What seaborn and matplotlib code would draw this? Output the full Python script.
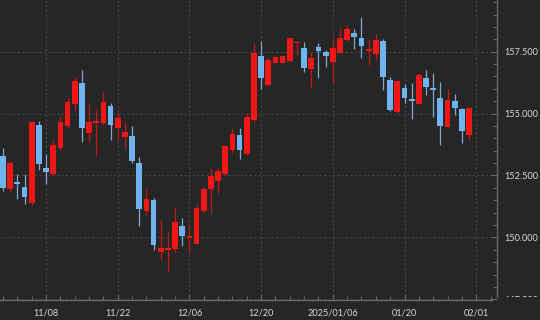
import numpy as np
import pandas as pd
import matplotlib
matplotlib.use("Agg")
import matplotlib.pyplot as plt
from matplotlib.ticker import MultipleLocator, FixedLocator
from matplotlib.transforms import Bbox, TransformedBbox
import seaborn as sns

# ---- data (bar index 0 = 11/08) ----
bar_index = list(range(-6, 60))
opens = [153.30, 151.94, 152.25, 152.05, 151.40, 154.54, 152.81, 152.55, 153.62, 154.51,
         155.39, 156.25, 154.20, 154.61, 154.63, 155.31, 154.41, 154.04, 154.11, 153.02,
         151.07, 151.51, 149.42, 149.49, 149.52, 150.46, 149.96, 149.73, 151.07, 151.94,
         152.29, 152.56, 153.53, 154.14, 153.36, 154.74, 157.33, 156.16, 157.06, 157.06,
         157.13, 157.84, 157.64, 156.79, 157.70, 157.48, 157.07, 157.46, 157.97, 158.27,
         158.07, 157.54, 157.40, 157.95, 156.36, 155.08, 156.05, 155.59, 155.39, 156.45,
         156.02, 155.62, 154.47, 155.51, 155.19, 154.14]
highs = [153.60, 153.09, 152.55, 152.55, 154.70, 154.70, 153.36, 153.93, 154.90, 155.62,
         156.49, 156.76, 155.38, 155.15, 155.89, 155.42, 155.08, 154.70, 154.50, 153.24,
         151.94, 151.58, 150.70, 150.23, 151.20, 150.77, 150.53, 151.34, 152.05, 152.75,
         152.79, 153.69, 154.43, 154.41, 155.01, 157.84, 157.93, 157.23, 157.30, 157.33,
         158.07, 157.91, 157.91, 157.50, 157.87, 157.57, 158.04, 158.45, 158.58, 158.41,
         158.89, 157.97, 158.20, 158.00, 156.49, 156.36, 156.20, 156.25, 156.65, 156.76,
         156.63, 156.27, 155.98, 155.78, 155.22, 155.25]
lows = [151.87, 151.85, 151.54, 151.35, 151.31, 152.72, 152.14, 152.52, 153.53, 154.41,
        155.15, 153.87, 153.84, 153.30, 154.54, 153.93, 153.93, 153.56, 152.99, 150.46,
        150.90, 149.49, 149.09, 148.65, 149.42, 149.66, 149.38, 149.73, 151.00, 151.00,
        151.81, 152.48, 153.40, 153.15, 153.33, 154.67, 155.98, 156.12, 157.03, 157.03,
        157.10, 157.37, 156.69, 156.02, 156.43, 156.90, 156.25, 157.44, 157.95, 157.60,
        157.23, 156.96, 157.17, 155.95, 155.12, 155.01, 155.44, 154.77, 155.39, 155.75,
        154.85, 153.73, 154.45, 154.94, 153.80, 153.93]
closes = [151.98, 153.02, 152.14, 151.62, 154.67, 152.95, 152.63, 153.73, 154.67, 155.48,
          156.33, 154.43, 154.65, 154.70, 155.46, 154.54, 154.84, 154.27, 153.09, 151.13,
          151.55, 149.69, 149.58, 149.58, 150.63, 150.07, 150.07, 151.20, 151.95, 152.48,
          152.68, 153.69, 154.16, 153.53, 154.88, 157.46, 156.45, 157.17, 157.30, 157.33,
          158.04, 157.88, 156.86, 157.26, 157.54, 157.33, 157.66, 158.07, 158.41, 158.11,
          157.74, 157.56, 157.97, 156.47, 155.15, 156.32, 155.62, 155.51, 156.56, 156.06,
          155.95, 154.51, 155.55, 155.24, 154.31, 155.21]
tick_positions = [0, 10, 20, 30, 40, 50, 60]
tick_labels = ["11/08", "11/22", "12/06", "12/20", "2025/01/06", "01/20", "02/01"]
price_ticks = [147.5, 150.0, 152.5, 155.0, 157.5]

df = pd.DataFrame({"i": bar_index, "open": opens, "high": highs,
                   "low": lows, "close": closes})

BG = "#262626"
UP = "#f21616"
DOWN = "#6fb4ee"
UP_WICK = "#c41818"
DOWN_WICK = "#7fa9d2"
TXT = "#d9d9d9"
SPINE = "#6a6a6a"
GRID = "#4a4a4a"

sns.set_theme(style="dark", rc={"axes.facecolor": BG, "figure.facecolor": BG})
plt.rcParams["font.family"] = ["Lato", "DejaVu Sans"]

fig = plt.figure(figsize=(5.4, 3.2), dpi=100)
ax = fig.add_axes([0.0, 20 / 320, 497 / 540, 300 / 320])
ax.set_facecolor(BG)

up = df["close"] >= df["open"]
body_col = np.where(up, UP, DOWN)
wick_col = np.where(up, UP_WICK, DOWN_WICK)

ax.vlines(df["i"], df["low"], df["high"], colors=wick_col, linewidth=0.9, zorder=2)
body_bottom = np.minimum(df["open"], df["close"])
body_h = np.maximum((df["close"] - df["open"]).abs(), 0.06)
ax.bar(df["i"], body_h, bottom=body_bottom, width=0.8, color=body_col,
       linewidth=0, zorder=3)

ax.set_xlim(-6.42, 62.9)
ax.set_ylim(147.47, 159.59)

# x axis
ax.xaxis.set_major_locator(FixedLocator(tick_positions))
ax.set_xticklabels(tick_labels)
ax.xaxis.set_minor_locator(MultipleLocator(2))
ax.tick_params(axis="x", which="major", direction="in", length=4.5, width=0.8,
               color=SPINE, labelsize=6.6, labelcolor=TXT, pad=6, bottom=True)
ax.tick_params(axis="x", which="minor", direction="in", length=2.8, width=0.7,
               color=SPINE, bottom=True)

# y axis on the right
ax.yaxis.tick_right()
ax.yaxis.set_major_locator(FixedLocator(price_ticks))
ax.set_yticklabels([f"{v:.3f}" for v in price_ticks])
ax.yaxis.set_minor_locator(MultipleLocator(0.5))
ax.tick_params(axis="y", which="major", direction="in", length=4.5, width=0.8,
               color=SPINE, labelsize=6.6, labelcolor=TXT, pad=5,
               right=True, left=False, labelright=True, labelleft=False)
ax.tick_params(axis="y", which="minor", direction="in", length=2.8, width=0.7,
               color=SPINE, right=True, left=False)

ax.set_xlabel("")
ax.set_ylabel("")

# grid
ax.grid(True, which="major", axis="both", color=GRID, linestyle=(0, (2, 2.5)),
        linewidth=0.7, zorder=0)
ax.set_axisbelow(True)

for s in ["top", "left"]:
    ax.spines[s].set_visible(False)
ax.spines["bottom"].set_color(SPINE)
ax.spines["right"].set_color(SPINE)
ax.spines["bottom"].set_linewidth(1.0)
ax.spines["right"].set_linewidth(1.0)
ax.spines["bottom"].set_bounds(-6.42, 62.2)
ax.spines["right"].set_bounds(147.6, 159.59)

# clip the lowest price label like the reference (only its top is visible)
clip = TransformedBbox(Bbox([[0, 23 / 320], [1, 1]]), fig.transFigure)
fig.canvas.draw()
for t in ax.yaxis.get_major_ticks():
    if abs(t.get_loc() - 147.5) < 1e-6:
        t.label2.set_clip_on(True)
        t.label2.set_clip_box(clip)

fig.savefig("out.png", dpi=100, facecolor=BG)
